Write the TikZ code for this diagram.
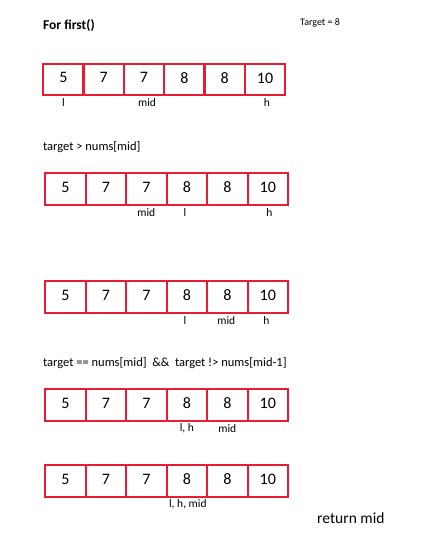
\documentclass[tikz,border=0pt]{standalone}
\usepackage{fontspec}
\setmainfont{Carlito}
\definecolor{cellred}{RGB}{232,28,52}
\begin{document}
\begin{tikzpicture}[x=1pt,y=-1pt,
  cell/.style={draw=cellred,line width=2.2pt,minimum width=40.5pt,minimum height=31.5pt,inner sep=0pt,font=\fontsize{16}{16}\selectfont,anchor=north west,text depth=3pt},
  lbl/.style={font=\fontsize{11.5}{12}\selectfont,inner sep=0pt},
  txt/.style={font=\fontsize{12.5}{13}\selectfont,inner sep=0pt,anchor=west}]
\useasboundingbox (0,0) rectangle (437,542);
\node[font=\bfseries\fontsize{13.5}{14}\selectfont,inner sep=0pt,anchor=west] (title) at (43,26) {For first()};
\node[font=\fontsize{10}{10}\selectfont,inner sep=0pt,anchor=west] (tgt) at (300,23) {Target = 8};
% array 1
\foreach \v [count=\i] in {5,7,7,8,8,10}
  \node[cell] (a\i) at ({42+40.33*(\i-1)},62.5) {\v};
\node[lbl] (a1l) at (a1.south |- 0,102.5) {l};
\node[lbl] (a1m) at ([xshift=3pt]a3.south |- 0,102.5) {mid};
\node[lbl] (a1h) at ([xshift=2pt]a6.south |- 0,102.5) {h};
\node[txt] (c1) at (43,147) {target > nums[mid]};
% array 2
\foreach \v [count=\i] in {5,7,7,8,8,10}
  \node[cell] (b\i) at ({44+40.5*(\i-1)},172) {\v};
\node[lbl] (b2m) at (b3.south |- 0,213) {mid};
\node[lbl] (b2l) at ([xshift=-2pt]b4.south |- 0,213) {l};
\node[lbl] (b2h) at ([xshift=1.5pt]b6.south |- 0,213) {h};
% array 3
\foreach \v [count=\i] in {5,7,7,8,8,10}
  \node[cell] (d\i) at ({44+40.5*(\i-1)},280) {\v};
\node[lbl] (d3l) at ([xshift=-2pt]d4.south |- 0,320.5) {l};
\node[lbl] (d3m) at ([xshift=-1pt]d5.south |- 0,320.5) {mid};
\node[lbl] (d3h) at ([xshift=-1.5pt]d6.south |- 0,320.5) {h};
\node[txt] (c2) at (43,363) {target == nums[mid]\ \ \&\&\ \ target !> nums[mid-1]};
% array 4
\foreach \v [count=\i] in {5,7,7,8,8,10}
  \node[cell] (e\i) at ({44+40.5*(\i-1)},388) {\v};
\node[lbl] (e4lh) at (e4.south |- 0,428.5) {l, h};
\node[lbl] (e4m) at (e5.south |- 0,428.5) {mid};
% array 5
\foreach \v [count=\i] in {5,7,7,8,8,10}
  \node[cell] (f\i) at ({44+40.5*(\i-1)},464) {\v};
\node[lbl] (f4) at ([xshift=1pt]f4.south |- 0,504.5) {l, h, mid};
\node[font=\fontsize{15.5}{16}\selectfont,inner sep=0pt,anchor=west] (ret) at (317,518) {return mid};
\end{tikzpicture}
\end{document}
